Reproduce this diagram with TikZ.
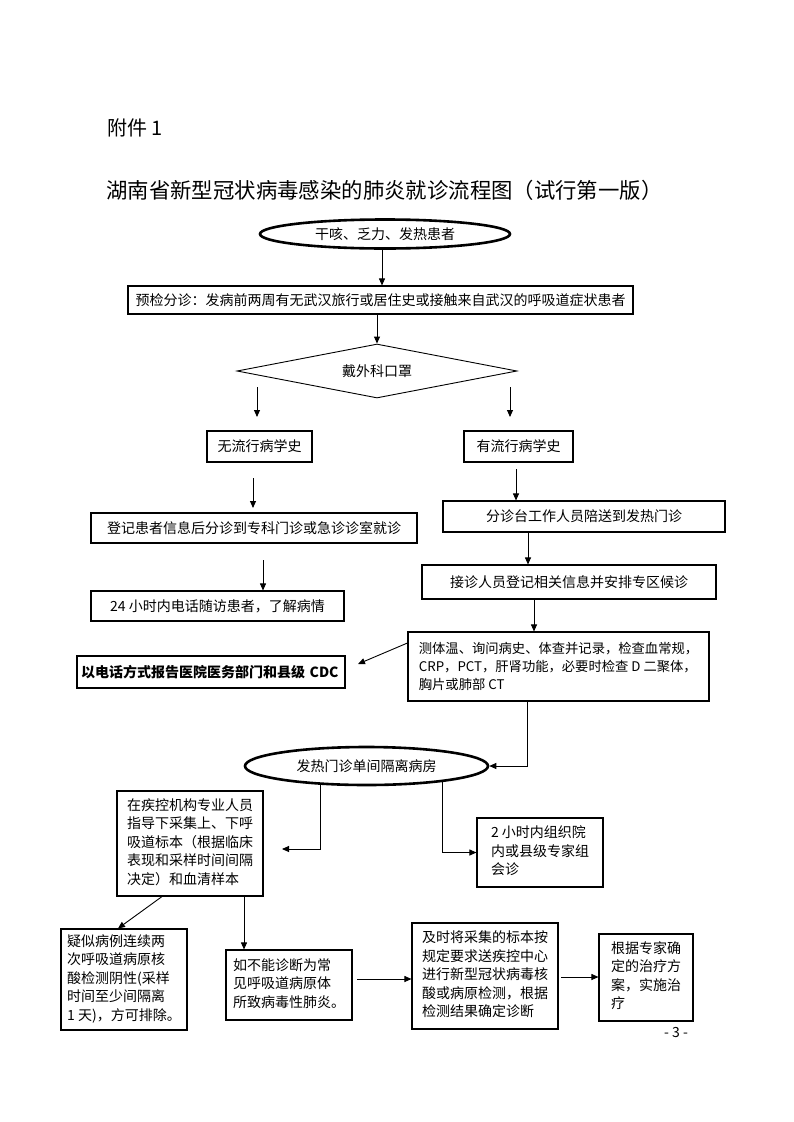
\documentclass[tikz,border=0pt]{standalone}
\usepackage{fontspec}
\setmainfont{Noto Sans CJK SC}
\usetikzlibrary{shapes.geometric,arrows.meta}
\newcommand\bodyfs{\fontsize{14pt}{18.5pt}\selectfont}
\begin{document}
\begin{tikzpicture}[x=1pt,y=-1pt,
  box/.style={draw,line width=1.1pt,inner sep=0pt,font=\bodyfs,align=center},
  lbox/.style={draw,line width=1.1pt,inner sep=0pt,font=\bodyfs,align=left},
  oval/.style={ellipse,draw,line width=2.6pt,inner sep=0pt,font=\bodyfs},
  arr/.style={line width=0.9pt,-{Triangle[length=7pt,width=6pt]}},
  plain/.style={inner sep=0pt}
]
\useasboundingbox (0,0) rectangle (794,1122);

% headings
\node[plain,anchor=west,font=\fontsize{20pt}{24pt}\selectfont] (att) at (107,128) {附件 1};
\node[plain,anchor=west,font=\fontsize{21.4pt}{26pt}\selectfont] (title) at (106,190) {湖南省新型冠状病毒感染的肺炎就诊流程图（试行第一版）};

% top part
\node[oval,minimum width=250,minimum height=29] (e1) at (385,234) {干咳、乏力、发热患者};
\node[box,minimum width=505,minimum height=28] (b2) at (380.5,300) {预检分诊：发病前两周有无武汉旅行或居住史或接触来自武汉的呼吸道症状患者};
\node[diamond,draw,line width=0.9pt,inner sep=0pt,aspect=5.2,minimum width=280,minimum height=54,font=\bodyfs] (d) at (377,371) {戴外科口罩};

\draw[arr] ([xshift=-3pt]e1.south) -- ([xshift=-3pt]e1.south |- b2.north);
\draw[arr] (b2.south -| d.north) -- (d.north);

% left branch
\node[box,minimum width=105,minimum height=31] (nb) at (259.5,446.5) {无流行病学史};
\node[box,minimum width=326,minimum height=30] (reg) at (254,528) {登记患者信息后分诊到专科门诊或急诊诊室就诊};
\node[box,minimum width=253,minimum height=30] (h24) at (217.5,606) {24 小时内电话随访患者，了解病情};

\coordinate (l1s) at (257,387); \coordinate (l1e) at (257,417);
\coordinate (l2s) at (253,478); \coordinate (l2e) at (253,508);
\coordinate (l3s) at (263,560);
\draw[arr] (l1s) -- (l1e);
\draw[arr] (l2s) -- (l2e);
\draw[arr] (l3s) -- (l3s |- h24.north);

% right branch
\node[box,minimum width=109,minimum height=31] (yb) at (518.5,446.5) {有流行病学史};
\node[box,minimum width=282,minimum height=31] (fz) at (584,516.5) {分诊台工作人员陪送到发热门诊};
\node[box,minimum width=294,minimum height=34] (jz) at (569,582) {接诊人员登记相关信息并安排专区候诊};
\node[lbox,minimum width=301,minimum height=69,font=\fontsize{13.3pt}{18pt}\selectfont] (ct) at (558.5,666.5) {测体温、询问病史、体查并记录，检查血常规，\\CRP，PCT，肝肾功能，必要时检查 D 二聚体，\\胸片或肺部 CT};
\node[draw,line width=1.1pt,inner sep=4pt,text width=260,align=left,minimum height=32,font=\bfseries\bodyfs] (cdc) at (211,672) {以电话方式报告医院医务部门和县级 CDC};

\coordinate (r1s) at (510,387); \coordinate (r1e) at (510,417);
\coordinate (r2s) at (516,469);
\coordinate (r3s) at (528,532);
\coordinate (r4s) at (534,599);
\coordinate (cdce) at (358,664);
\draw[arr] (r1s) -- (r1e);
\draw[arr] (r2s) -- (r2s |- fz.north);
\draw[arr] (r3s) -- (r3s |- jz.north);
\draw[arr] (r4s) -- (r4s |- ct.north);
\draw[arr] ([yshift=23.5pt]ct.west) -- (cdce);

% isolation ward
\node[oval,minimum width=243,minimum height=38] (e2) at (366.5,766) {发热门诊单间隔离病房};
\draw[arr] ([xshift=-31.5pt]ct.south) |- (e2.east);

\node[box,minimum width=146,minimum height=105] (samp) at (190,843.5) {\begin{tabular}{@{}l@{}}在疾控机构专业人员\\指导下采集上、下呼\\吸道标本（根据临床\\表现和采样时间间隔\\决定）和血清样本\end{tabular}};
\node[box,minimum width=126,minimum height=69] (h2) at (540,852.5) {\begin{tabular}{@{}l@{}}2 小时内组织院\\内或县级专家组\\会诊\end{tabular}};

\coordinate (e2l) at (320,784);
\coordinate (e2r) at (442,781);
\coordinate (sampe) at (282,849);
\draw[arr] (e2l) |- (sampe);
\draw[arr] (e2r) |- (h2.west);

% bottom row
\node[box,minimum width=126,minimum height=101] (susp) at (124,979.5) {\begin{tabular}{@{}l@{}}疑似病例连续两\\次呼吸道病原核\\酸检测阴性(采样\\时间至少间隔离\\1 天)，方可排除。\end{tabular}};
\node[box,minimum width=126,minimum height=70] (nod) at (289,985) {\begin{tabular}{@{}l@{}}如不能诊断为常\\见呼吸道病原体\\所致病毒性肺炎。\end{tabular}};
\node[box,minimum width=146,minimum height=106] (send) at (485,976) {\begin{tabular}{@{}l@{}}及时将采集的标本按\\规定要求送疾控中心\\进行新型冠状病毒核\\酸或病原检测，根据\\检测结果确定诊断\end{tabular}};
\node[box,minimum width=94,minimum height=87] (treat) at (646,977.5) {\begin{tabular}{@{}l@{}}根据专家确\\定的治疗方\\案，实施治\\疗\end{tabular}};

\draw[arr] ([xshift=-28pt]samp.south) -- ([xshift=-6pt]susp.north);
\draw[arr] ([xshift=54pt]samp.south) -- ([xshift=54pt]samp.south |- nod.north);
\coordinate (ns) at (357,979);
\draw[arr] (ns) -- (ns -| send.west);
\coordinate (ss) at (561,977);
\draw[arr] (ss) -- (ss -| treat.west);

\node[plain,font=\fontsize{14pt}{16pt}\selectfont] (pg) at (676,1032) {- 3 -};
\end{tikzpicture}
\end{document}
